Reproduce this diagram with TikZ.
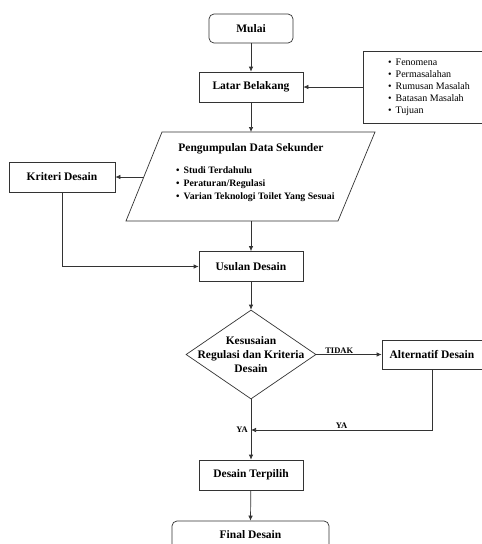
\documentclass[tikz,border=0pt]{standalone}
\usepackage{fontspec}
\setmainfont{Liberation Serif}
\usetikzlibrary{shapes.geometric,arrows.meta}
\begin{document}
\begin{tikzpicture}[x=1pt,y=-1pt,
  ln/.style={line width=0.7pt, draw=black!80},
  box/.style={ln, rectangle, minimum width=104pt, minimum height=30pt, inner sep=0pt,
    font=\bfseries\fontsize{11.5}{13}\selectfont},
  rbox/.style={box, rounded corners=5pt},
  arr/.style={ln, -{Latex[length=5pt,width=4.5pt]}},
  lbl/.style={font=\bfseries\fontsize{8.5}{10}\selectfont, inner sep=1pt}]
\useasboundingbox (0,0) rectangle (482,544);
\clip (0,0) rectangle (482,544);
\fill[white] (0,0) rectangle (482,544);
% nodes
\node[rbox, minimum width=84pt, minimum height=29pt] (mulai) at (251,28.5) {Mulai};
\node[box] (latar) at (251,87) {Latar Belakang};
\node[ln, draw, rectangle, minimum width=122pt, minimum height=72pt, inner sep=0pt] (list) at (424,87) {};
\node[anchor=west, align=left, font=\fontsize{10}{12}\selectfont, inner sep=0pt] (listtxt) at (388,87)
  {\textbullet\hspace{4pt}Fenomena\\ \textbullet\hspace{4pt}Permasalahan\\ \textbullet\hspace{4pt}Rumusan Masalah\\ \textbullet\hspace{4pt}Batasan Masalah\\ \textbullet\hspace{4pt}Tujuan};
% parallelogram
\coordinate (pa) at (126,221);
\coordinate (pb) at (338,221);
\coordinate (pc) at (375,132);
\coordinate (pd) at (162,132);
\draw[ln] (pa) -- (pb) -- (pc) -- (pd) -- cycle;
\coordinate (ptop) at (251,132);
\coordinate (pbot) at (251,221);
\coordinate (pleft) at (144,177);
\node[font=\bfseries\fontsize{11.5}{13}\selectfont, inner sep=0pt] (pdstitle) at (251,149) {Pengumpulan Data Sekunder};
\node[anchor=north west, align=left, font=\bfseries\fontsize{9.8}{13}\selectfont, inner sep=0pt] (pdsitems) at (176,166)
  {\textbullet\hspace{4pt}Studi Terdahulu\\ \textbullet\hspace{4pt}Peraturan/Regulasi\\ \textbullet\hspace{4pt}Varian Teknologi Toilet Yang Sesuai};
\node[box, minimum width=106pt] (krit) at (62,177) {Kriteri Desain};
\node[box] (usulan) at (251,266.5) {Usulan Desain};
\node[ln, draw, diamond, minimum width=130pt, minimum height=89pt, inner sep=0pt] (dec) at (251,354.5) {};
\node[align=center, font=\bfseries\fontsize{11.5}{14}\selectfont, inner sep=0pt] (dectxt) at (251,355) {Kesusaian\\Regulasi dan Kriteria\\Desain};
\node[box, minimum width=100pt, minimum height=29pt] (alt) at (432,354.5) {Alternatif Desain};
\coordinate (ya) at (251,430);
\node[box] (terpilih) at (251,475) {Desain Terpilih};
\node[rbox, minimum width=157pt, minimum height=36pt] (final) at (250.5,539) {};
\node[font=\bfseries\fontsize{11.5}{13}\selectfont, inner sep=0pt] (finaltxt) at (250.5,535) {Final Desain};
% connectors
\draw[arr] (mulai) -- (latar);
\draw[arr] (list.west) -- (latar.east);
\draw[arr] (latar) -- (ptop);
\draw[arr] (pleft) -- (pleft -| krit.east);
\draw[arr] (pbot) -- (usulan.north);
\draw[arr] (krit.south) |- (usulan.west);
\draw[arr] (usulan) -- (dec.north);
\draw[arr] (dec.east) -- node[lbl, above, pos=0.35] {TIDAK} (alt.west);
\draw[arr] (alt.south) |- node[lbl, above, pos=0.75] {YA} (ya);
\node[lbl, anchor=east] (yalbl) at (249,430) {YA};
\draw[arr] (dec.south) -- (terpilih.north);
\draw[arr] (terpilih) -- (final.north);
\end{tikzpicture}
\end{document}
